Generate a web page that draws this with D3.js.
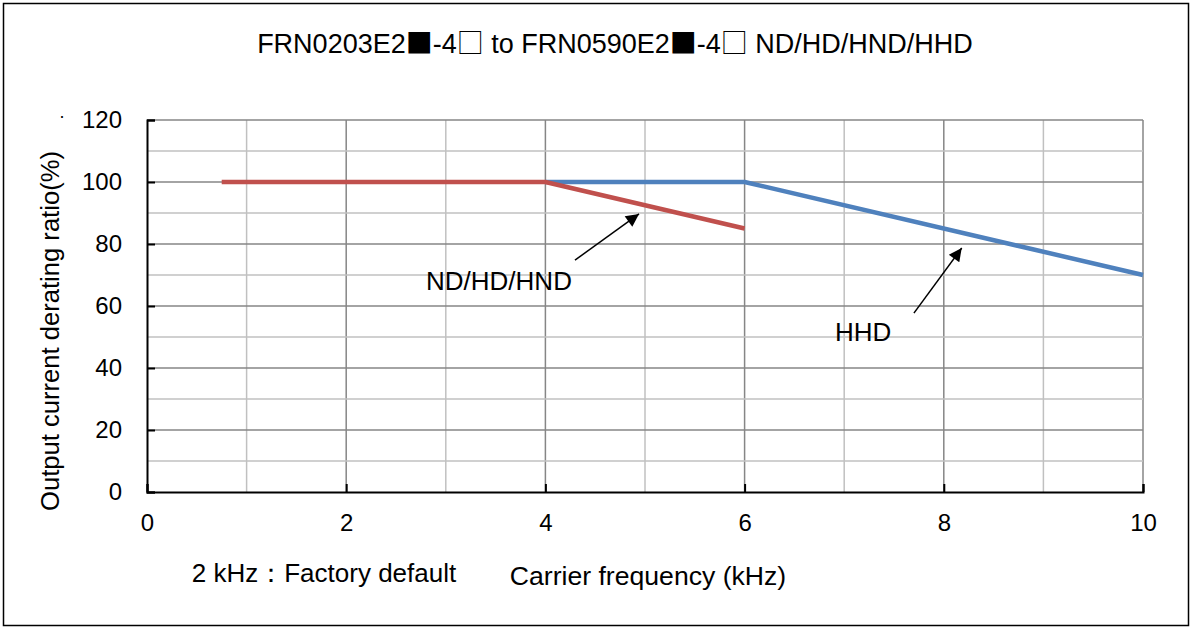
<!DOCTYPE html>
<html><head><meta charset="utf-8">
<script src="https://cdn.jsdelivr.net/npm/d3@7"></script>
<style>body{margin:0;background:#fff}svg{display:block;font-family:"Liberation Sans",Arial,sans-serif}</style>
</head><body><svg id="c" width="1192" height="629"></svg>
<script>
const title = "FRN0203E2■-4□ to FRN0590E2■-4□ ND/HD/HND/HHD";
const yLabel = "Output current derating ratio(%)";
const xLabel = "Carrier frequency (kHz)";
const noteLabel = "2 kHz：Factory default";
const xTicks = [0, 2, 4, 6, 8, 10];
const yTicks = [0, 20, 40, 60, 80, 100, 120];
const ndFreq = [0.75, 4, 6];
const ndRatio = [100, 100, 85];
const hhdFreq = [4, 6, 10];
const hhdRatio = [100, 100, 70];
const seriesNames = ["ND/HD/HND", "HHD"];
// annotation anchor points in data units: label centre/baseline, arrow start, arrow tip
const ndNote = {text: seriesNames[0], lx: 3.534, ly: 65.2, sx: 4.297, sy: 74.8, tx: 4.94, ty: 89.7};
const hhdNote = {text: seriesNames[1], lx: 7.19, ly: 48.7, sx: 7.70, sy: 57.7, tx: 8.18, ty: 78.7};

const FONT = '"Liberation Sans",Arial,sans-serif';
const svg = d3.select("#c");
const W = 1192, H = 629;
svg.append("rect").attr("x", 3.5).attr("y", 3.5).attr("width", W - 7).attr("height", H - 7)
  .attr("fill", "#fff").attr("stroke", "#000").attr("stroke-width", 1.5);

const L = 147, R = 1143, T = 120, B = 492;
const x = d3.scaleLinear().domain([0, 10]).range([L, R]);
const y = d3.scaleLinear().domain([0, 120]).range([B, T]);
const g = svg.append("g");

// grid
d3.range(1, 11).forEach(v => {
  g.append("line").attr("x1", x(v)).attr("x2", x(v)).attr("y1", T).attr("y2", B)
    .attr("stroke", v % 2 === 0 ? "#868686" : "#c0c0c0").attr("stroke-width", 1.5);
});
d3.range(10, 121, 10).forEach(v => {
  g.append("line").attr("x1", L).attr("x2", R).attr("y1", y(v)).attr("y2", y(v))
    .attr("stroke", v % 20 === 0 ? "#868686" : "#c0c0c0").attr("stroke-width", 1.5);
});

// axes
const yAxis = d3.axisLeft(y).tickValues(yTicks).tickSize(-8).tickPadding(25).tickFormat(d3.format("d"));
const xAxis = d3.axisBottom(x).tickValues(xTicks).tickSize(-8).tickPadding(22).tickFormat(d3.format("d"));
const ya = g.append("g").attr("transform", `translate(${L},0)`).call(yAxis);
const xa = g.append("g").attr("transform", `translate(0,${B})`).call(xAxis);
[ya, xa].forEach(a => {
  a.attr("font-size", null).attr("font-family", null);
  a.select(".domain").attr("stroke", "#000").attr("stroke-width", 2);
  a.selectAll(".tick line").attr("stroke", "#000").attr("stroke-width", 2);
  a.selectAll("text").style("font-size", "24px").attr("fill", "#000").style("font-family", FONT);
});

// lines
const line = d3.line().x(d => x(d[0])).y(d => y(d[1]));
g.append("path").datum(d3.zip(hhdFreq, hhdRatio)).attr("d", line)
  .attr("fill", "none").attr("stroke", "#4f81bd").attr("stroke-width", 4.5).attr("stroke-linejoin", "round");
g.append("path").datum(d3.zip(ndFreq, ndRatio)).attr("d", line)
  .attr("fill", "none").attr("stroke", "#c0504d").attr("stroke-width", 4.5).attr("stroke-linejoin", "round");

// arrows
const defs = svg.append("defs");
defs.append("marker").attr("id", "ah").attr("viewBox", "0 0 10 10").attr("refX", 10).attr("refY", 5)
  .attr("markerWidth", 15).attr("markerHeight", 13).attr("markerUnits", "userSpaceOnUse").attr("orient", "auto")
  .append("path").attr("d", "M0,0 L10,5 L0,10 Z").attr("fill", "#000");
[ndNote, hhdNote].forEach(n => {
  g.append("line").attr("x1", x(n.sx)).attr("y1", y(n.sy)).attr("x2", x(n.tx)).attr("y2", y(n.ty))
    .attr("stroke", "#000").attr("stroke-width", 1.5).attr("marker-end", "url(#ah)");
  g.append("text").attr("x", x(n.lx)).attr("y", y(n.ly)).attr("text-anchor", "middle")
    .style("font-size", "26px").text(n.text);
});

// title with the box symbols set in a CJK font
const tt = svg.append("text").attr("x", 615).attr("y", 53).attr("text-anchor", "middle").style("font-size", "27px");
title.split(/([■□])/).filter(s => s.length).forEach(s => {
  const sp = tt.append("tspan").text(s);
  if (/[■□]/.test(s)) sp.style("font-family", '"Noto Sans CJK JP"');
});
svg.append("text").attr("transform", "translate(59,331) rotate(-90)").attr("text-anchor", "middle")
  .style("font-size", "25.6px").text(yLabel);
svg.append("text").attr("x", 62).attr("y", 122).attr("text-anchor", "middle").style("font-size", "18px").text("·");
svg.append("text").attr("x", 648).attr("y", 585).attr("text-anchor", "middle").style("font-size", "26.6px").text(xLabel);
svg.append("text").attr("x", 324).attr("y", 582).attr("text-anchor", "middle").style("font-size", "26px").text(noteLabel);
</script></body></html>
